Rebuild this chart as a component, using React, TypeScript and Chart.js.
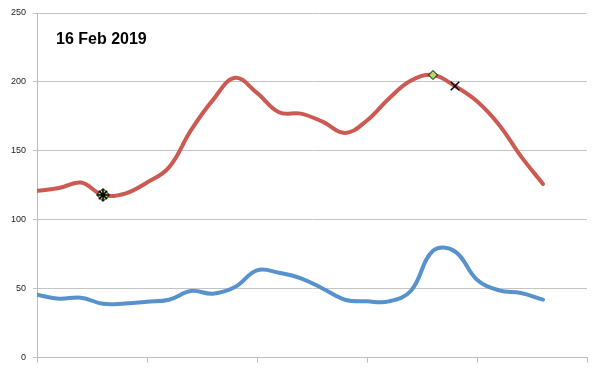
import React, { useEffect, useRef } from "react";
import { Chart, registerables } from "chart.js";

Chart.register(...registerables);

const title = "16 Feb 2019";
const redSeries = [121, 123, 127, 118, 119, 127, 138, 165, 187, 203, 192, 178, 177, 171, 163, 172, 188, 201, 205, 197, 186, 169, 146, 126];
const blueSeries = [45.6, 42.7, 43.5, 39, 39.3, 40.5, 42, 48.3, 46.4, 51.2, 63.3, 61.6, 57.5, 50, 42, 40.8, 40.8, 48.5, 77.5, 77, 56.5, 48.8, 46.9, 42];
const diamondIdx = [3, 18];
const crossIdx = [3, 19];
const xMax = 25;
const xStep = 5;
const yMax = 250;
const yStep = 50;

const toXY = (arr: number[]) => arr.map((v, i) => ({ x: i, y: v }));
const pick = (arr: number[], idx: number[]) =>
  arr.map((v, i) => ({ x: i, y: idx.includes(i) ? v : null }));

const titlePlugin = {
  id: "inlineTitle",
  afterDraw(chart: any) {
    const { ctx, chartArea } = chart;
    ctx.save();
    ctx.font = "bold 16px 'Liberation Sans', Arial, sans-serif";
    ctx.fillStyle = "#000";
    ctx.textBaseline = "alphabetic";
    ctx.fillText(title, chartArea.left + 19, chartArea.top + 31);
    ctx.restore();
  },
};

export default function App() {
  const ref = useRef<HTMLCanvasElement>(null);
  useEffect(() => {
    const chart = new Chart(ref.current!, {
      type: "line",
      data: {
        datasets: [
          {
            data: pick(redSeries, crossIdx) as any,
            showLine: false,
            pointStyle: (c: any) => (c.dataIndex === 3 ? "star" : "crossRot"),
            pointRadius: 6,
            pointBorderColor: "#000",
            pointBorderWidth: 1.5,
            order: 0,
          },
          {
            data: pick(redSeries, diamondIdx) as any,
            showLine: false,
            pointStyle: "rectRot",
            pointRadius: (c: any) => (c.dataIndex === 3 ? 6.5 : 4.5),
            pointBackgroundColor: "#b3d66a",
            pointBorderColor: "#000",
            pointBorderWidth: 1,
            order: 1,
          },
          {
            data: toXY(redSeries),
            borderColor: "#cd5a52",
            borderWidth: 4,
            pointRadius: 0,
            tension: 0.4,
            borderCapStyle: "round",
            order: 2,
          },
          {
            data: toXY(blueSeries),
            borderColor: "#5792cd",
            borderWidth: 4,
            pointRadius: 0,
            tension: 0.4,
            borderCapStyle: "round",
            order: 3,
          },
        ],
      },
      options: {
        animation: false,
        responsive: true,
        maintainAspectRatio: false,
        layout: { padding: { top: 13, right: 16, left: 0, bottom: 0 } },
        plugins: { legend: { display: false }, tooltip: { enabled: false } },
        scales: {
          x: {
            type: "linear",
            min: 0,
            max: xMax,
            ticks: { stepSize: xStep, callback: () => "" },
            grid: { drawOnChartArea: false, drawTicks: true, tickLength: 5, color: "#bdbdbd" },
            border: { color: "#bdbdbd", width: 1 },
            afterFit: (s: any) => { s.height = 10; },
          },
          y: {
            min: 0,
            max: yMax,
            ticks: {
              stepSize: yStep,
              font: { size: 9, family: "'Liberation Sans', Arial, sans-serif" },
              color: "#222",
              padding: 7,
            },
            grid: { color: "#c4c4c4", lineWidth: 1, tickLength: 4 },
            border: { color: "#bdbdbd", width: 1 },
            afterFit: (s: any) => { s.width = 37; },
          },
        },
      },
      plugins: [titlePlugin],
    });
    return () => chart.destroy();
  }, []);
  return (
    <div style={{ position: "absolute", left: 0, top: 0, width: 603, height: 370, background: "#fff" }}>
      <canvas ref={ref} />
    </div>
  );
}
